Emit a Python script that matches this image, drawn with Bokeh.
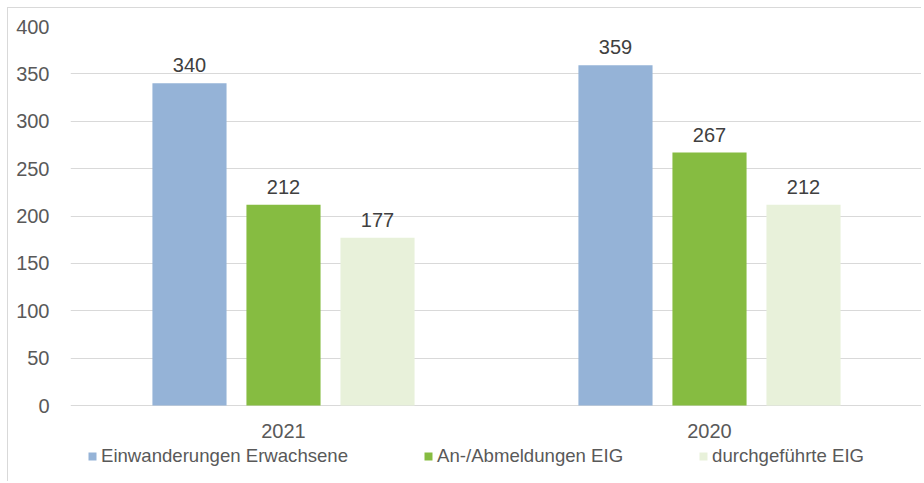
from bokeh.plotting import figure
from bokeh.models import (ColumnDataSource, FactorRange, FixedTicker, LabelSet,
                          Legend, LegendItem, Range1d)
from bokeh.core.properties import value
from bokeh.transform import dodge
from bokeh.embed import file_html
from bokeh.resources import INLINE

years = ["2021", "2020"]
series_names = ["Einwanderungen Erwachsene", "An-/Abmeldungen EIG", "durchgeführte EIG"]
einwanderungen = [340, 359]
abmeldungen = [212, 267]
durchgefuehrt = [177, 212]
y_ticks = [0, 50, 100, 150, 200, 250, 300, 350, 400]

colors = ["#95b3d7", "#86bc41", "#e8f1da"]
FONT = "Liberation Sans"

src = ColumnDataSource(data=dict(
    years=years, base=[0] * len(years),
    s0=einwanderungen, s1=abmeldungen, s2=durchgefuehrt,
    l0=[str(v) for v in einwanderungen],
    l1=[str(v) for v in abmeldungen],
    l2=[str(v) for v in durchgefuehrt],
))

# frame: value 400 at 26px, 0 at 405px, frame bottom at 482px (page coords)
y_bottom = -400 * (482 - 405) / (405 - 26)

p = figure(width=914, height=474, x_range=FactorRange(factors=years, range_padding=0),
           y_range=Range1d(y_bottom, 400), output_backend="svg", toolbar_location=None,
           min_border_left=62, min_border_right=0, min_border_top=18, min_border_bottom=0,
           styles={"border-left": "1px solid #d9d9d9", "border-top": "1px solid #d9d9d9",
                   "margin-left": "7px", "margin-top": "7px"})
p.outline_line_color = None
p.background_fill_color = "white"
p.border_fill_color = "white"

offsets = [-0.2207, 0.0, 0.2207]
bw = 0.174
renderers = []
for i, (off, col) in enumerate(zip(offsets, colors)):
    r = p.vbar(x=dodge("years", off, range=p.x_range), top=f"s{i}", width=bw,
               source=src, fill_color=col, line_color=None)
    renderers.append(r)
    labels = LabelSet(x=dodge("years", off, range=p.x_range), y=f"s{i}", text=f"l{i}",
                      source=src, text_align="center", text_baseline="alphabetic",
                      y_offset=11, text_font=value(FONT), text_font_size=value("20px"),
                      text_color="#404040")
    p.add_layout(labels)

# category labels under the zero line
cat_labels = LabelSet(x="years", y="base", text="years", source=src,
                      text_align="center", text_baseline="middle", y_offset=-25,
                      text_font=value(FONT), text_font_size=value("20px"),
                      text_color="#595959")
p.add_layout(cat_labels)

p.xgrid.grid_line_color = None
p.ygrid.grid_line_color = "#d9d9d9"
p.ygrid.ticker = FixedTicker(ticks=y_ticks)

p.yaxis.ticker = FixedTicker(ticks=y_ticks)
p.yaxis.axis_line_color = None
p.yaxis.major_tick_line_color = None
p.yaxis.minor_tick_line_color = None
p.yaxis.major_label_standoff = 15
p.yaxis.major_label_text_font = FONT
p.yaxis.major_label_text_font_size = "20px"
p.yaxis.major_label_text_color = "#595959"

p.xaxis.visible = False

legend = Legend(items=[LegendItem(label=n, renderers=[r]) for n, r in zip(series_names, renderers)],
                orientation="horizontal", location=(17, 15), spacing=75,
                glyph_width=10, glyph_height=10, label_standoff=4, padding=0, margin=0,
                label_text_font=FONT, label_text_font_size="18.6px",
                label_text_color="#595959", border_line_color=None,
                background_fill_alpha=0, label_height=20)
p.add_layout(legend, "center")

open("out.html", "w").write(file_html(p, INLINE))
